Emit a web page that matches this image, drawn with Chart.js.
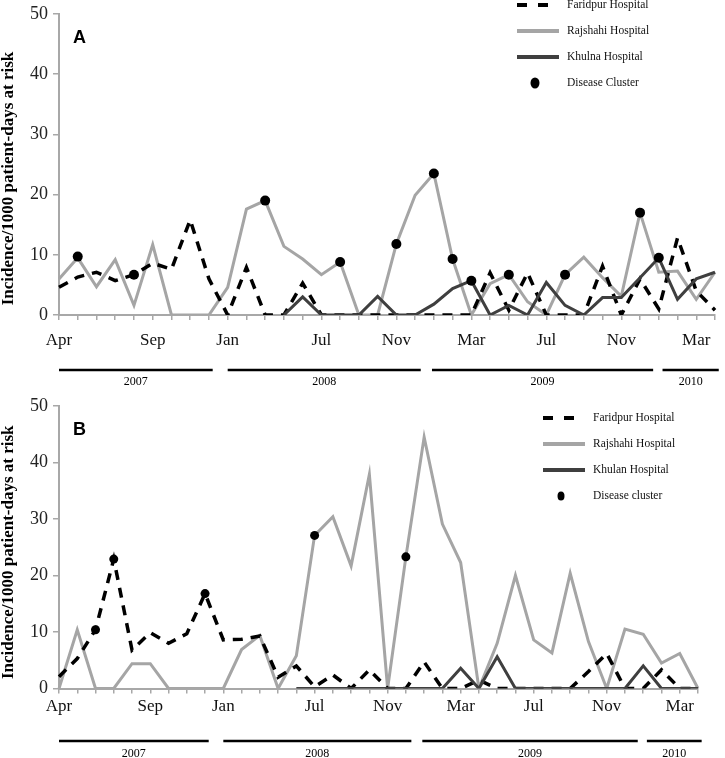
<!DOCTYPE html>
<html>
<head>
<meta charset="utf-8">
<script src="https://cdn.jsdelivr.net/npm/chart.js@4.4.1/dist/chart.umd.min.js"></script>
<style>
  body { margin: 0; background: #fff; }
  canvas { display: block; }
</style>
</head>
<body>
<canvas id="chart-a" width="725" height="392"></canvas>
<canvas id="chart-b" width="725" height="366"></canvas>
<script>
// month ticks (Apr 2007 .. Mar 2010), only some are labelled like the original
var months = ['Apr','','','','','Sep','','','','Jan','','','','','Jul','','','','Nov','','','','Mar','','','','Jul','','','','Nov','','','','Mar',''];

// panel A
var faridpurA = [4.6,6.3,7.1,5.7,6.7,8.6,7.6,15.8,6.0,0,7.9,0,0,5.3,0,0,0,0,0,0,0,0,0,7.0,0.8,7.0,0,0,0,8.1,0,6.0,1.0,12.8,4.0,0.8];
var rajshahiA = [6.0,9.5,4.7,9.2,1.6,11.7,0,0,0,4.6,17.6,19.0,11.4,9.3,6.7,8.8,0,0,11.8,19.9,23.5,9.3,0,5.2,6.7,2.2,0,6.7,9.6,6.2,3.1,17.0,7.1,7.3,2.6,7.1];
var khulnaA = [null,null,null,null,null,null,null,null,null,null,null,null,0,3.0,0,0,0,3.1,0,0,1.8,4.4,5.7,0,1.6,0,5.4,1.6,0,2.9,2.9,6.2,9.5,2.6,6.0,7.1];
var clusterA = [null,9.7,null,null,6.7,null,null,null,null,null,null,19.0,null,null,null,8.8,null,null,11.8,null,23.5,9.3,5.7,null,6.7,null,null,6.7,null,null,null,17.0,9.5,null,null,null];

// panel B
var faridpurB = [2.1,5.3,10.4,22.9,6.8,9.9,8.0,9.7,16.8,8.6,8.7,9.3,2.0,4.0,0.3,2.4,0,3.3,0,0,4.7,0,0,1.5,0,0,0,0,0,3.0,6.2,0,0,3.3,0,0];
var rajshahiB = [0,10.4,0,0,4.4,4.4,0,0,0,0,6.9,9.4,0,5.8,27.1,30.4,21.7,37.9,0,23.3,44.5,29.1,22.3,0,8.0,20.0,8.6,6.3,20.4,8.3,0,10.5,9.6,4.5,6.2,0];
var khulanB = [null,null,null,null,null,null,null,null,null,null,null,null,null,0,0,0,0,0,0,0,0,0,3.6,0,5.6,0,0,0,0,0,0,0,4.0,0,0,0];
var clusterB = [null,null,10.4,22.9,null,null,null,null,16.8,null,null,null,null,null,27.1,null,null,null,null,23.3,null,null,null,null,null,null,null,null,null,null,null,null,null,null,null,null];

// year bars under the month axis: [from index, to index, label]
var years = [[0, 8.2, '2007'], [9, 19.3, '2008'], [19.9, 31.7, '2009'], [32.2, 35.2, '2010']];

var yTitle = 'Incidence/1000 patient-days at risk';

var GRAY = '#a5a5a5';
var DARK = '#3f3f3f';
var AXIS = '#a8a8a8';
var SERIF = '"Liberation Serif", "Times New Roman", serif';

// draws panel letter, y title, the little legend and the year bars
var extras = {
  id: 'extras',
  afterDraw: function(chart, args, o) {
    var ctx = chart.ctx;
    var xs = chart.scales.x;
    var area = chart.chartArea;
    var step = xs.getPixelForValue(1) - xs.getPixelForValue(0);
    var px = function(v) { return xs.getPixelForValue(0) + v * step; };
    ctx.save();

    // letter
    ctx.fillStyle = '#000';
    ctx.font = 'bold 18px "Liberation Sans", Arial, sans-serif';
    ctx.textBaseline = 'alphabetic';
    ctx.textAlign = 'left';
    ctx.fillText(o.letter, area.left + 14, area.top + 29);

    // y title (sits a bit low in the original)
    ctx.save();
    ctx.translate(9, (area.top + area.bottom) / 2 + o.titleShift);
    ctx.rotate(-Math.PI / 2);
    ctx.textAlign = 'center';
    ctx.textBaseline = 'middle';
    ctx.font = 'bold 17px ' + SERIF;
    ctx.fillText(yTitle, 0, 0);
    ctx.restore();

    // years
    ctx.strokeStyle = '#000';
    ctx.lineWidth = 2.5;
    ctx.font = '12px ' + SERIF;
    ctx.textAlign = 'center';
    ctx.textBaseline = 'middle';
    years.forEach(function(y) {
      var a = px(y[0]), b = Math.min(px(y[1]), chart.width);
      ctx.beginPath();
      ctx.moveTo(a, area.bottom + o.barOff);
      ctx.lineTo(b, area.bottom + o.barOff);
      ctx.stroke();
      ctx.fillText(y[2], (a + b) / 2, area.bottom + o.textOff);
    });

    // legend
    ctx.textAlign = 'left';
    ctx.font = o.fontSize + 'px ' + SERIF;
    chart.data.datasets.forEach(function(ds, i) {
      var y = o.y0 + i * o.gap;
      if (ds.showLine === false) {
        ctx.fillStyle = '#000';
        ctx.beginPath();
        ctx.ellipse(o.x + 18, y, o.dot, o.dot + 1, 0, 0, Math.PI * 2);
        ctx.fill();
      } else {
        ctx.strokeStyle = ds.borderColor;
        ctx.lineWidth = 4;
        ctx.setLineDash(ds.borderDash ? [10, 11] : []);
        ctx.beginPath();
        ctx.moveTo(o.x, y);
        ctx.lineTo(o.x + (ds.borderDash ? 33 : 42), y);
        ctx.stroke();
        ctx.setLineDash([]);
      }
      ctx.fillStyle = '#111';
      ctx.fillText(ds.label, o.textX, y);
    });
    ctx.restore();
  }
};

function makePanel(id, names, series, cluster, opt) {
  return new Chart(document.getElementById(id), {
    type: 'line',
    data: {
      labels: months,
      datasets: [
        {
          label: names[0],
          data: series[0],
          borderColor: '#000',
          borderWidth: 3.5,
          borderDash: [10, 8],
          order: 2
        },
        {
          label: names[1],
          data: series[1],
          borderColor: GRAY,
          borderWidth: 3,
          order: 3
        },
        {
          label: names[2],
          data: series[2],
          borderColor: DARK,
          borderWidth: 3,
          order: 1
        },
        {
          label: names[3],
          data: cluster,
          showLine: false,
          pointRadius: opt.dot,
          pointBackgroundColor: '#000',
          pointBorderWidth: 0,
          order: 0
        }
      ]
    },
    options: {
      responsive: false,
      animation: false,
      devicePixelRatio: 1,
      elements: {
        line: { tension: 0, fill: false },
        point: { radius: 0, hoverRadius: 0 }
      },
      layout: { padding: opt.padding },
      plugins: {
        legend: { display: false },
        tooltip: { enabled: false },
        extras: opt.extras
      },
      scales: {
        x: {
          offset: false,
          ticks: {
            autoSkip: false,
            maxRotation: 0,
            color: '#111',
            padding: opt.tickPad,
            font: { family: SERIF, size: 17 }
          },
          grid: { drawOnChartArea: false, tickLength: 5, color: AXIS, lineWidth: 1.5 },
          border: { color: AXIS, width: 2 },
          afterFit: function(s) { s.height = opt.xHeight; }
        },
        y: {
          min: 0,
          max: 50,
          ticks: {
            stepSize: 10,
            color: '#222',
            padding: 5,
            font: { family: SERIF, size: 18, lineHeight: 1 }
          },
          grid: { drawOnChartArea: false, tickLength: 6, color: AXIS, lineWidth: 1.5 },
          border: { color: AXIS, width: 2 },
          afterFit: function(s) { s.width = 59; }
        }
      }
    },
    plugins: [extras]
  });
}

makePanel('chart-a',
  ['Faridpur Hospital', 'Rajshahi Hospital', 'Khulna Hospital', 'Disease Cluster'],
  [faridpurA, rajshahiA, khulnaA], clusterA,
  {
    dot: 5,
    padding: { top: 8, right: 3, bottom: 42, left: 0 },
    tickPad: 10,
    xHeight: 35,
    extras: { letter: 'A', titleShift: 14, barOff: 55, textOff: 67, x: 517, textX: 567, y0: 5, gap: 26, fontSize: 11.5, dot: 4.5 }
  });

makePanel('chart-b',
  ['Faridpur Hospital', 'Rajshahi Hospital', 'Khulan Hospital', 'Disease cluster'],
  [faridpurB, rajshahiB, khulanB], clusterB,
  {
    dot: 4.5,
    padding: { top: 12, right: 27, bottom: 42.5, left: 0 },
    tickPad: 3,
    xHeight: 27,
    extras: { letter: 'B', titleShift: 5, barOff: 52.5, textOff: 65, x: 543, textX: 593, y0: 26, gap: 26, fontSize: 11.5, dot: 3.5 }
  });
</script>
</body>
</html>
